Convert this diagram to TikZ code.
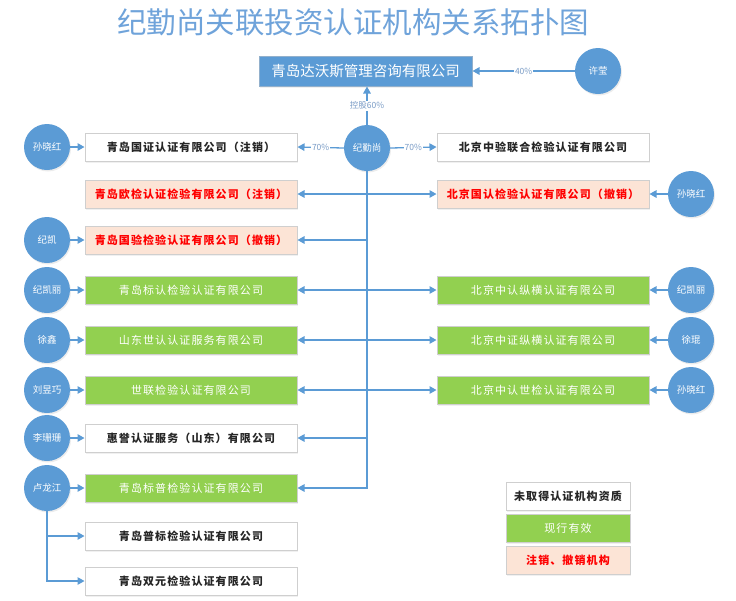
\documentclass[tikz,border=0pt]{standalone}
\usepackage{fontspec}
\setmainfont{Noto Sans CJK SC}
\newfontfamily\cjk{Noto Sans CJK SC}
\newfontfamily\boxfont[LetterSpace=10]{Noto Sans CJK SC}
\usetikzlibrary{arrows.meta,shadows}
\definecolor{cblue}{HTML}{5B9BD5}
\definecolor{cgreen}{HTML}{92D050}
\definecolor{cpink}{HTML}{FCE4D6}
\definecolor{cborder}{HTML}{CFCFCF}
\definecolor{ctitle}{HTML}{6FA3DA}
\definecolor{clabel}{HTML}{7A9CC6}
\definecolor{cred}{HTML}{FF0000}
\begin{document}
\begin{tikzpicture}[x=1pt,y=-1pt,
  box/.style={draw=cborder, line width=1pt, minimum width=212pt, minimum height=28pt, inner sep=0pt,
    drop shadow={opacity=0.12,shadow xshift=1pt,shadow yshift=-1.5pt}},
  wbox/.style={box, fill=white, text=black!85, font=\boxfont\bfseries\fontsize{11}{13}\selectfont},
  gbox/.style={box, fill=cgreen, text=white, font=\boxfont\fontsize{11}{13}\selectfont},
  pbox/.style={box, fill=cpink, text=cred, font=\boxfont\bfseries\fontsize{11}{13}\selectfont},
  person/.style={circle, fill=cblue, text=white, minimum size=46pt, inner sep=0pt,
    font=\cjk\fontsize{9.5}{11}\selectfont,
    drop shadow={opacity=0.15,shadow xshift=1pt,shadow yshift=-1.5pt}},
  conn/.style={draw=cblue, line width=1.3pt, -{Triangle[length=7pt,width=7.5pt]}},
  lbl/.style={fill=white, inner sep=1pt, font=\cjk\fontsize{8.5}{10}\selectfont, text=clabel}
]
\useasboundingbox (0,0) rectangle (736,600);

\node[font=\cjk\fontsize{29.5}{32}\selectfont, text=ctitle] (title) at (353,22) {纪勤尚关联投资认证机构关系拓扑图};

% top
\node[box, draw=cblue!80!black!60, fill=cblue, text=white, minimum width=213pt, minimum height=30pt,
  font=\cjk\fontsize{14.5}{16}\selectfont] (top) at (365.5,71) {青岛达沃斯管理咨询有限公司};
\node[person] (xy) at (598,71) {许莹};
\node[person] (js) at (367,148) {纪勤尚};

% left boxes
\node[wbox] (L1) at (191,147) {青岛国证认证有限公司（注销）};
\node[pbox] (L2) at (191,194) {青岛欧检认证检验有限公司（注销）};
\node[pbox] (L3) at (191,240) {青岛国验检验认证有限公司（撤销）};
\node[gbox] (L4) at (191,290) {青岛标认检验认证有限公司};
\node[gbox] (L5) at (191,340) {山东世认认证服务有限公司};
\node[gbox] (L6) at (191,390) {世联检验认证有限公司};
\node[wbox] (L7) at (191,438) {惠誉认证服务（山东）有限公司};
\node[gbox] (L8) at (191,488) {青岛标普检验认证有限公司};
\node[wbox] (L9) at (191,536) {青岛普标检验认证有限公司};
\node[wbox] (L10) at (191,581) {青岛双元检验认证有限公司};

% right boxes
\node[wbox] (R1) at (543,147) {北京中验联合检验认证有限公司};
\node[pbox] (R2) at (543,194) {北京国认检验认证有限公司（撤销）};
\node[gbox] (R4) at (543,290) {北京中认纵横认证有限公司};
\node[gbox] (R5) at (543,340) {北京中证纵横认证有限公司};
\node[gbox] (R6) at (543,390) {北京中认世检认证有限公司};

% left persons
\node[person] (p1) at (47,147) {孙晓红};
\node[person] (p3) at (47,240) {纪凯};
\node[person] (p4) at (47,290) {纪凯丽};
\node[person] (p5) at (47,340) {徐鑫};
\node[person] (p6) at (47,390) {刘昱巧};
\node[person] (p7) at (47,438) {李珊珊};
\node[person] (p8) at (47,488) {卢龙江};

% right persons
\node[person] (q2) at (691,194) {孙晓红};
\node[person] (q4) at (691,290) {纪凯丽};
\node[person] (q5) at (691,340) {徐琨};
\node[person] (q6) at (691,390) {孙晓红};

% legend
\node[wbox, minimum width=124pt] (lg1) at (568,496) {未取得认证机构资质};
\node[gbox, minimum width=124pt] (lg2) at (568,528) {现行有效};
\node[pbox, minimum width=124pt] (lg3) at (568,560) {注销、撤销机构};

% connectors
\draw[conn] (js.north) -- node[lbl] {控股60\%} (js.north |- top.south);
\draw[conn] (xy.west) -- node[lbl] {40\%} (top.east);
\draw[conn] (js.west) -- node[lbl] {70\%} (L1.east);
\draw[conn] (js.east) -- node[lbl] {70\%} (R1.west);

\draw[conn] (js.south) -- (js.south |- L8.east) -- (L8.east);
\foreach \n in {L2,L3,L4,L5,L6,L7} \draw[conn] (js.south |- \n.east) -- (\n.east);
\foreach \n in {R2,R4,R5,R6} \draw[conn] (js.south |- \n.west) -- (\n.west);

\draw[conn] (p1.east) -- (L1.west);
\draw[conn] (p3.east) -- (L3.west);
\draw[conn] (p4.east) -- (L4.west);
\draw[conn] (p5.east) -- (L5.west);
\draw[conn] (p6.east) -- (L6.west);
\draw[conn] (p7.east) -- (L7.west);
\draw[conn] (p8.east) -- (L8.west);
\draw[conn] (p8.south) -- (p8.south |- L10.west) -- (L10.west);
\draw[conn] (p8.south |- L9.west) -- (L9.west);

\draw[conn] (q2.west) -- (R2.east);
\draw[conn] (q4.west) -- (R4.east);
\draw[conn] (q5.west) -- (R5.east);
\draw[conn] (q6.west) -- (R6.east);
\end{tikzpicture}
\end{document}
